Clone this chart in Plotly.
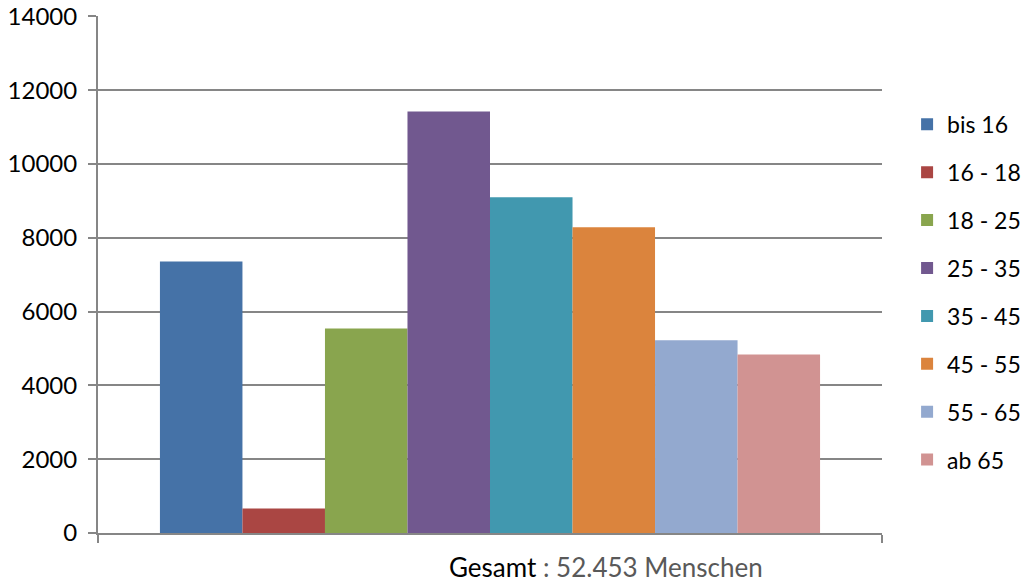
import plotly.graph_objects as go

categories = ["Gesamt"]
groups = ["bis 16", "16 - 18", "18 - 25", "25 - 35", "35 - 45", "45 - 55", "55 - 65", "ab 65"]
values = [7360, 665, 5545, 11425, 9095, 8285, 5220, 4840]
colors = ["#4572A7", "#AA4643", "#89A54E", "#71588F", "#4198AF", "#DB843D", "#93A9CF", "#D19392"]
y_ticks = [0, 2000, 4000, 6000, 8000, 10000, 12000, 14000]
y_tick_labels = [str(t) for t in y_ticks]

FONT = "Lato"
fig = go.Figure()
for i, (g, v, c) in enumerate(zip(groups, values, colors)):
    fig.add_trace(go.Bar(x=categories, y=[v], name=g, marker=dict(color=c, line=dict(width=0)),
                         legendgroup=g))

fig.update_layout(
    width=1024, height=582,
    margin=dict(l=98, r=142, t=16, b=49, autoexpand=False),
    paper_bgcolor="white", plot_bgcolor="white",
    barmode="group", bargap=0.158, bargroupgap=0,
    font=dict(family=FONT, size=23, color="black"),
    showlegend=True,
    legend=dict(x=1.032, y=0.832, xanchor="left", yanchor="top",
                font=dict(family=FONT, size=23, color="black"),
                tracegroupgap=15, itemwidth=30),
    xaxis=dict(showline=True, linecolor="#868686", linewidth=2, automargin=False,
               ticks="outside", tickson="boundaries", ticklen=8, tickcolor="#868686", tickwidth=2,
               showticklabels=False, showgrid=False),
    yaxis=dict(range=[0, 14010], tickvals=y_ticks, ticktext=y_tick_labels, automargin=False,
               showline=True, linecolor="#868686", linewidth=2,
               ticks="outside", ticklen=8, tickcolor="#868686", tickwidth=2,
               showgrid=True, gridcolor="#868686", gridwidth=1.5, zeroline=False,
               tickfont=dict(family=FONT, size=24, color="black"), ticklabelstandoff=6),
    annotations=[dict(xref="paper", yref="paper", x=0.648, y=-0.066, xanchor="center", yanchor="middle",
                      text="Gesamt<span style='color:#595959'> : 52.453 Menschen</span>",
                      showarrow=False, font=dict(family=FONT, size=26, color="black"))],
)

fig.write_html("out.html")
